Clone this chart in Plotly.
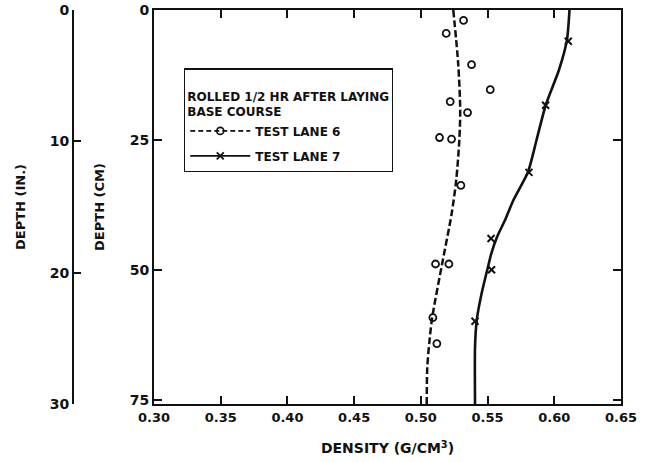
import plotly.graph_objects as go

# ---- data ----
lane6_density = [0.532, 0.519, 0.538, 0.552, 0.522, 0.535, 0.514, 0.523, 0.530, 0.511, 0.521, 0.509, 0.512]
lane6_depth = [2.0, 4.5, 10.5, 15.3, 17.6, 19.7, 24.5, 24.8, 33.7, 48.8, 48.8, 59.1, 64.1]

lane7_density = [0.6105, 0.5935, 0.581, 0.5526, 0.553, 0.5406]
lane7_depth = [6.0, 18.3, 31.2, 43.9, 49.9, 59.8]

curve6_depth = [0, 10.4, 19.3, 25.1, 32.7, 39.1, 48.7, 59.1, 64.0, 68.7, 75.7]
curve6_density = [0.5243, 0.528, 0.5295, 0.5288, 0.5265, 0.5231, 0.516, 0.5085, 0.5063, 0.5048, 0.5044]

curve7_depth = [0, 5.76, 11.53, 18.25, 24.98, 31.12, 36.5, 40.35, 43.61, 46.69, 49.38, 54.37, 59.56,
                64.75, 75.7]
curve7_density = [0.6114, 0.6095, 0.6035, 0.5936, 0.5867, 0.5803, 0.5694, 0.5631, 0.5571, 0.5529,
                  0.5503, 0.5456, 0.5419, 0.5406, 0.5406]

x_ticks = [0.30, 0.35, 0.40, 0.45, 0.50, 0.55, 0.60, 0.65]
x_ticklabels = ["0.30", "0.35", "0.40", "0.45", "0.50", "0.55", "0.60", "0.65"]
cm_ticks = [0, 25, 50, 75]
in_ticks = [0, 10, 20, 30]

legend_title = "<br>ROLLED 1/2 HR AFTER LAYING<br>BASE COURSE"
name6 = "TEST LANE 6"
name7 = "TEST LANE 7"

FONT = "DejaVu Sans"
BLACK = "#111111"

fig = go.Figure()

# fitted curves
fig.add_trace(go.Scatter(x=curve6_density, y=curve6_depth, mode="lines",
                         line=dict(color=BLACK, width=2.5, dash="7px,3px", shape="spline", smoothing=0.8),
                         showlegend=False, hoverinfo="skip"))
fig.add_trace(go.Scatter(x=curve7_density, y=curve7_depth, mode="lines",
                         line=dict(color=BLACK, width=2.6, shape="spline", smoothing=0.6),
                         showlegend=False, hoverinfo="skip"))
# measured points
fig.add_trace(go.Scatter(x=lane6_density, y=lane6_depth, mode="markers",
                         marker=dict(symbol="circle-open", size=7, color=BLACK, line=dict(width=1.8)),
                         showlegend=False))
fig.add_trace(go.Scatter(x=lane7_density, y=lane7_depth, mode="markers",
                         marker=dict(symbol="x-thin-open", size=7, color=BLACK, line=dict(width=2)),
                         showlegend=False))
# legend entries
fig.add_trace(go.Scatter(x=[None], y=[None], mode="lines+markers", name=name6, legendgroup="a",
                         marker=dict(symbol="circle-open", size=7, color=BLACK, line=dict(width=1.6)),
                         line=dict(color=BLACK, width=1.6, dash="5px,3px")))
fig.add_trace(go.Scatter(x=[None], y=[None], mode="lines+markers", name=name7, legendgroup="b",
                         marker=dict(symbol="x-thin-open", size=7, color=BLACK, line=dict(width=1.8)),
                         line=dict(color=BLACK, width=1.6)))
# trace to carry the inch axis
fig.add_trace(go.Scatter(x=[None], y=[None], yaxis="y2", showlegend=False, hoverinfo="skip"))

tickfont = dict(family=FONT, size=14, color=BLACK, weight="bold")
titlefont = dict(family=FONT, size=13, color=BLACK, weight="bold")

fig.update_layout(
    width=649, height=462,
    margin=dict(l=40, r=28, t=10, b=58),
    paper_bgcolor="white", plot_bgcolor="white",
    font=dict(family=FONT, color=BLACK),
    xaxis=dict(domain=[0.1962, 1], range=[0.30, 0.65], tickvals=x_ticks, ticktext=x_ticklabels,
               ticks="inside", ticklen=8, tickwidth=2, tickcolor=BLACK, automargin=False,
               showline=True, linecolor=BLACK, linewidth=2, mirror="ticks",
               showgrid=False, zeroline=False, tickfont=dict(family=FONT, size=13, color=BLACK, weight="bold"),
               title=dict(text="DENSITY (G/CM<sup>3</sup>)", font=dict(family=FONT, size=14, color=BLACK, weight="bold"),
                          standoff=20)),
    yaxis=dict(range=[75.7, 0], tickvals=cm_ticks, ticks="inside", ticklen=8, tickwidth=2,
               tickcolor=BLACK, showline=True, linecolor=BLACK, linewidth=2, mirror="ticks",
               showgrid=False, zeroline=False, tickfont=tickfont, automargin=False,
               title=dict(text="DEPTH (CM)", font=titlefont, standoff=22)),
    yaxis2=dict(range=[30, 0], tickvals=in_ticks, overlaying="y", anchor="free", position=0.0568,
                side="left", ticks="inside", ticklen=7, tickwidth=2, tickcolor=BLACK, automargin=False,
                showline=True, linecolor=BLACK, linewidth=2, showgrid=False, zeroline=False,
                tickfont=tickfont, title=dict(text="DEPTH (IN.)", font=titlefont, standoff=20)),
    legend=dict(x=0.2478, y=0.852, xanchor="left", yanchor="top",
                bordercolor=BLACK, borderwidth=1.3, bgcolor="white",
                font=dict(family=FONT, size=12, color=BLACK, weight="bold"),
                title=dict(text=legend_title, font=dict(family=FONT, size=12, color=BLACK, weight="bold")),
                itemwidth=60, tracegroupgap=6, entrywidth=150),
)

fig.write_html("out.html")
